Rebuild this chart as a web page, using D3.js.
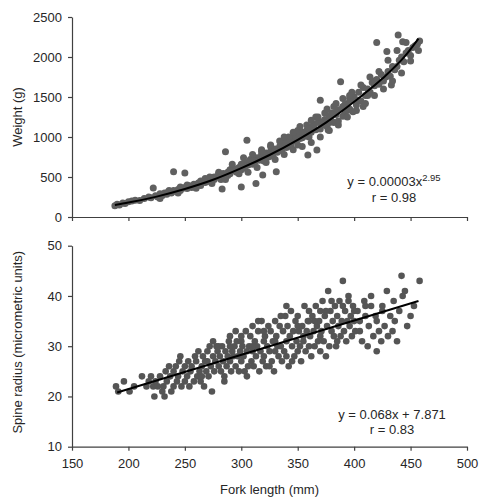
<!DOCTYPE html>
<html>
<head>
<meta charset="utf-8">
<script src="https://cdn.jsdelivr.net/npm/d3@7"></script>
<style>
  body { margin: 0; background: #fff; }
  svg text { font-family: Arial, "Liberation Sans", sans-serif; fill: #262626; }
</style>
</head>
<body>
<div id="svgContainer"></div>
<script>
const width = 479;
const height = 502;

// fork length (mm) and weight (g), top panel
const topLength = [188,190,192,195,197,200,203,206,210,214,
  218,220,222,224,226,228,230,232,234,236,
  238,240,240,242,244,246,248,250,250,252,
  254,256,258,260,262,264,266,268,270,270,
  272,274,276,278,280,282,283,284,286,286,
  288,290,290,292,294,296,298,300,300,300,
  302,304,305,306,308,310,310,312,313,314,
  316,318,319,320,320,322,324,326,328,330,
  331,332,334,336,338,340,340,342,344,346,
  348,350,350,352,354,356,358,359,360,360,
  362,364,366,367,368,370,370,372,374,376,
  377,378,380,380,382,384,386,386,388,390,
  390,392,394,396,398,399,400,402,404,406,
  408,408,410,412,414,416,418,420,420,422,
  424,426,428,429,430,432,433,434,436,438,
  439,440,442,443,444,446,448,450,452,454,
  456,457,458,
  246,258,264,276,282,292,296,304,308,316,324,328,336,344,348,356,364,372,378,384,392,396,404,412,418,
  235,262,288,312,334,354,374,394,414,
  228,236,244,252,260,268,274,280,286,292,298,
  302,306,310,314,318,322,326,330,334,338,342,346,350,
  354,358,362,366,370,374,378,382,386,390,394,398,
  402,406,410,414,418,422,426,430,434,438,442,446,450,
  264,272,280,290,300,310,320,330,340,350,360,370,380,390,
  318,326,338,346,352,362,368,376,384,396];
const topWeight = [140,160,150,175,170,190,200,210,205,230,
  250,240,362,265,250,290,270,300,285,310,
  300,565,330,320,345,330,360,550,370,355,
  390,370,410,400,425,395,440,430,470,445,
  455,490,470,500,520,480,350,545,815,510,
  560,540,590,575,600,560,620,375,640,590,
  610,680,960,650,700,660,720,690,420,740,
  710,780,525,760,700,800,750,820,790,850,
  566,810,880,840,900,870,960,920,880,990,
  950,1020,900,980,1060,1010,1080,775,1000,1120,
  1060,1140,1090,837,1180,1100,1460,1170,1220,1130,
  1087,1250,1200,1300,1180,1280,1150,1340,1690,1260,
  1380,1320,1420,1350,1460,1316,1500,1400,1560,1450,
  1380,1620,1520,1600,1560,1680,1640,2180,1720,1660,
  1780,1700,1750,2070,1820,1760,1650,1880,1840,1880,
  2275,1960,2000,2190,1940,2050,2080,2020,2120,2140,
  2160,2080,2200,
  375,380,450,500,470,610,600,640,720,730,790,760,910,930,1000,1060,1160,1190,1180,1310,1410,1480,1460,1520,1700,
  310,420,520,700,830,990,1150,1330,1560,
  230,330,300,400,360,480,420,560,470,660,540,
  740,560,780,620,840,680,880,720,950,780,1000,840,1080,
  880,1150,930,1250,1000,1300,1080,1380,1200,1480,1250,1560,
  1330,1650,1420,1750,1520,1820,1600,1960,1700,2080,1800,2180,1950,
  420,500,540,580,660,700,780,830,930,1000,1100,1180,1280,1370,
  820,900,1000,1060,1130,1210,1250,1350,1420,1520];

// fitted power curve
const topFitLength = [188,200,225,250,275,300,325,350,375,400,425,445,457];
const topFitWeight = [150,180,255,350,465,610,775,965,1180,1440,1730,2010,2230];

// fork length (mm) and spine radius, bottom panel
const botLength = [189,191,196,201,205,212,216,218,220,222,
  223,224,226,228,230,231,232,233,234,236,
  237,238,240,240,242,243,244,245,246,247,
  248,250,250,252,253,254,255,256,258,259,
  260,261,262,263,264,265,266,267,268,269,
  270,271,272,273,274,275,276,277,278,279,
  280,281,282,283,284,285,286,287,288,289,
  290,290,291,292,293,294,295,296,297,298,
  299,300,300,301,302,303,304,305,306,307,
  308,309,310,310,311,312,313,314,315,316,
  317,318,319,320,320,321,322,323,324,325,
  326,327,328,329,330,330,331,332,333,334,
  335,336,337,338,339,340,340,341,342,343,
  344,345,346,347,348,349,350,350,351,352,
  353,354,355,356,357,358,359,360,360,361,
  362,363,364,365,366,367,368,369,370,370,
  371,372,373,374,375,376,377,378,379,380,
  381,382,383,384,385,386,387,388,389,390,
  391,392,393,394,395,396,397,398,399,400,
  401,403,405,407,409,410,412,413,415,417,
  419,420,422,424,425,427,429,430,432,434,
  436,438,440,442,443,445,447,450,453,458,
  265,275,285,295,305,315,325,335,345,355,365,375,385,395,405,415,425,435,
  270,280,290,300,310,320,330,340,350,360,370,380,390,400,410,420];
const botRadius = [22,21,23,21,22,24,22,23,24,22,
  20,23,22,24,21,22,20,25,23,26,
  24,21,25,22,26,23,24,27,28,22,
  25,26,23,24,27,22,25,26,23,28,
  27,24,29,25,23,26,28,22,27,25,
  29,24,30,26,21,28,25,27,30,29,
  26,28,25,30,27,24,29,26,28,31,
  32,27,25,29,28,30,26,31,28,25,
  29,27,31,30,28,25,33,29,26,30,
  32,27,29,34,26,31,28,30,33,25,
  29,35,27,31,28,32,26,30,34,29,
  33,27,31,25,29,35,32,30,28,34,
  30,27,33,29,36,31,28,34,26,32,
  37,30,33,28,35,31,29,36,33,30,
  27,34,31,38,29,33,35,30,37,32,
  28,36,33,30,38,34,31,35,29,37,
  33,39,31,36,28,34,41,30,37,33,
  35,32,38,30,36,34,39,32,35,43,
  33,37,31,35,39,34,36,32,38,35,
  33,37,35,31,39,36,30,34,38,32,
  36,35,33,31,37,34,41,32,36,33,
  35,31,37,44,40,41,34,36,38,43,
  24,31,23,33,24,35,26,36,27,32,35,37,31,40,33,40,38,39,
  27,30,30,32,30,33,31,38,34,35,32,39,38,37,38,29];

// straight fit line end points
const botFitLength = [190, 457];
const botFitRadius = [20.8, 39.0];

const xTicks = [150,200,250,300,350,400,450,500];
const topTicks = [0,500,1000,1500,2000,2500];
const botTicks = [10,20,30,40,50];

const svg = d3.select("#svgContainer").append("svg")
  .attr("width", width)
  .attr("height", height);

const x = d3.scaleLinear().domain([150, 500]).range([72, 467]);
const yTop = d3.scaleLinear().domain([0, 2500]).range([217, 17]);
const yBot = d3.scaleLinear().domain([10, 50]).range([446.7, 245.7]);

function styleAxis(g) {
  g.selectAll(".domain").attr("stroke", "#404040").attr("stroke-width", 1.2);
  g.selectAll(".tick line").attr("stroke", "#404040").attr("stroke-width", 1.2);
  g.selectAll(".tick text").attr("font-size", "13px").attr("fill", "#262626")
    .attr("font-family", "Arial, 'Liberation Sans', sans-serif");
}

// top panel
svg.append("g")
  .attr("transform", `translate(0,${yTop(0)})`)
  .call(d3.axisBottom(x).tickValues(xTicks).tickFormat("").tickSize(4).tickSizeOuter(0))
  .call(styleAxis);

svg.append("g")
  .attr("transform", `translate(${x(150)},0)`)
  .call(d3.axisLeft(yTop).tickValues(topTicks).tickFormat(d3.format("d")).tickSize(4).tickSizeOuter(0).tickPadding(6))
  .call(styleAxis);

svg.append("g")
  .selectAll("circle")
  .data(d3.range(topLength.length))
  .join("circle")
    .attr("cx", i => x(topLength[i]))
    .attr("cy", i => yTop(topWeight[i]))
    .attr("r", 3.5)
    .attr("fill", "#606060");

svg.append("path")
  .datum(d3.range(topFitLength.length))
  .attr("fill", "none")
  .attr("stroke", "#000")
  .attr("stroke-width", 2)
  .attr("d", d3.line().curve(d3.curveMonotoneX)
    .x(i => x(topFitLength[i]))
    .y(i => yTop(topFitWeight[i])));

const eq1 = svg.append("text")
  .attr("x", 394).attr("y", 186)
  .attr("text-anchor", "middle")
  .attr("font-size", "13px");
eq1.append("tspan").text("y = 0.00003x");
eq1.append("tspan").attr("font-size", "9.5px").attr("dy", -5).text("2.95");

svg.append("text")
  .attr("x", 394).attr("y", 202)
  .attr("text-anchor", "middle")
  .attr("font-size", "13px")
  .text("r = 0.98");

svg.append("text")
  .attr("transform", `translate(22,${yTop(1250)}) rotate(-90)`)
  .attr("text-anchor", "middle")
  .attr("font-size", "13px")
  .text("Weight (g)");

// bottom panel
svg.append("g")
  .attr("transform", `translate(0,${yBot(10)})`)
  .call(d3.axisBottom(x).tickValues(xTicks).tickSize(4).tickSizeOuter(0).tickPadding(8))
  .call(styleAxis);

svg.append("g")
  .attr("transform", `translate(${x(150)},0)`)
  .call(d3.axisLeft(yBot).tickValues(botTicks).tickSize(4).tickSizeOuter(0).tickPadding(6))
  .call(styleAxis);

svg.append("g")
  .selectAll("circle")
  .data(d3.range(botLength.length))
  .join("circle")
    .attr("cx", i => x(botLength[i]))
    .attr("cy", i => yBot(botRadius[i]))
    .attr("r", 3.3)
    .attr("fill", "#555555");

svg.append("path")
  .datum(d3.range(botFitLength.length))
  .attr("fill", "none")
  .attr("stroke", "#000")
  .attr("stroke-width", 2)
  .attr("d", d3.line()
    .x(i => x(botFitLength[i]))
    .y(i => yBot(botFitRadius[i])));

svg.append("text")
  .attr("x", 392).attr("y", 419)
  .attr("text-anchor", "middle")
  .attr("font-size", "13px")
  .text("y = 0.068x + 7.871");

svg.append("text")
  .attr("x", 392).attr("y", 434)
  .attr("text-anchor", "middle")
  .attr("font-size", "13px")
  .text("r = 0.83");

svg.append("text")
  .attr("transform", `translate(22,${yBot(30) - 4}) rotate(-90)`)
  .attr("text-anchor", "middle")
  .attr("font-size", "13px")
  .text("Spine radius (micrometric units)");

svg.append("text")
  .attr("x", (x(150) + x(500)) / 2).attr("y", 494)
  .attr("text-anchor", "middle")
  .attr("font-size", "13px")
  .text("Fork length (mm)");
</script>
</body>
</html>
